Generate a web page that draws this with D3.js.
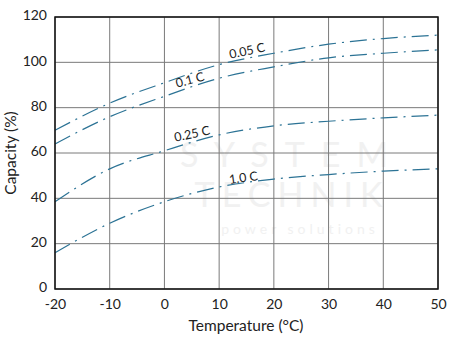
<!DOCTYPE html>
<html><head><meta charset="utf-8">
<script src="https://cdn.jsdelivr.net/npm/d3@7"></script>
<style>body{margin:0;background:#fff}svg{display:block}</style>
</head><body>
<svg id="c" width="455" height="341"></svg>
<script>
const temps = [-20, -10, 0, 10, 20, 30, 40, 50];
const cap005 = [70, 82, 91, 99, 104, 108, 110.5, 112];
const cap01  = [64, 76, 85, 93, 98, 102, 104, 105.5];
const cap025 = [38.5, 53, 61, 68, 72, 74, 75.5, 76.7];
const cap10  = [16, 29, 38.5, 45, 48.5, 50.5, 52, 53];
const seriesNames = ["0.05 C", "0.1 C", "0.25 C", "1.0 C"];
const xTicks = [-20, -10, 0, 10, 20, 30, 40, 50];
const yTicks = [0, 20, 40, 60, 80, 100, 120];
const watermark = ["SYSTEM", "TECHNIK", "power solutions"];

const svg = d3.select("#c");
const m = {l:55, r:438, t:17, b:289};
const x = d3.scaleLinear().domain([-20, 50]).range([m.l, m.r]);
const y = d3.scaleLinear().domain([0, 120]).range([m.b, m.t]);
const font = "Lato, 'Open Sans', sans-serif";

// watermark
const wm = svg.append("g").attr("fill", "#f1f1f1").attr("font-family", font);
wm.append("text").attr("x", 292).attr("y", 167).attr("text-anchor", "middle")
  .attr("font-size", 34).attr("letter-spacing", 16).text(watermark[0]);
wm.append("text").attr("x", 292).attr("y", 207).attr("text-anchor", "middle")
  .attr("font-size", 34).attr("letter-spacing", 7).text(watermark[1]);
wm.append("text").attr("x", 300).attr("y", 234).attr("text-anchor", "middle")
  .attr("font-size", 14).attr("letter-spacing", 4).text(watermark[2]);

// grid
const g = svg.append("g");
g.selectAll(".vx").data(xTicks).enter().append("line")
  .attr("x1", d => x(d)).attr("x2", d => x(d)).attr("y1", m.t).attr("y2", m.b)
  .attr("stroke", "#7a7a7a").attr("stroke-width", 1);
g.selectAll(".hy").data(yTicks).enter().append("line")
  .attr("y1", d => y(d)).attr("y2", d => y(d)).attr("x1", m.l).attr("x2", m.r)
  .attr("stroke", "#7a7a7a").attr("stroke-width", 1);

// curves
const all = [cap005, cap01, cap025, cap10];
const line = d3.line().x((d, i) => x(temps[i])).y(d => y(d)).curve(d3.curveMonotoneX);
svg.append("g").selectAll("path").data(all).enter().append("path")
  .attr("d", d => line(d)).attr("fill", "none")
  .attr("stroke", "#2c7395").attr("stroke-width", 1.2)
  .attr("stroke-dasharray", "17,6,2,6");

// frame
svg.append("rect").attr("x", m.l).attr("y", m.t).attr("width", m.r - m.l).attr("height", m.b - m.t)
  .attr("fill", "none").attr("stroke", "#111").attr("stroke-width", 1.5);

// axes
const xAxis = d3.axisBottom(x).tickValues(xTicks).tickFormat(d => String(d)).tickSize(0).tickPadding(10);
const xa = svg.append("g").attr("transform", `translate(0,${m.b})`).call(xAxis);
const yAxis = d3.axisLeft(y).tickValues(yTicks).tickFormat(d => String(d)).tickSize(0).tickPadding(8);
const ya = svg.append("g").attr("transform", `translate(${m.l},0)`).call(yAxis);
[xa, ya].forEach(a => {
  a.select(".domain").remove();
  a.selectAll("text").attr("font-family", font).attr("font-size", 14).attr("fill", "#222");
});
ya.selectAll("text").attr("dy", "0.2em");

svg.append("text").attr("x", 246).attr("y", 331).attr("text-anchor", "middle")
  .attr("font-family", font).attr("font-size", 15.5).attr("fill", "#222").text("Temperature (°C)");
svg.append("text").attr("transform", "translate(16,153) rotate(-90)").attr("text-anchor", "middle")
  .attr("font-family", font).attr("font-size", 15.5).attr("fill", "#222").text("Capacity (%)");

// series labels
const labelPos = [[248, 55, -12], [191, 84, -15], [193, 138, -12], [244, 182, -8]];
svg.append("g").selectAll("text").data(seriesNames).enter().append("text")
  .attr("transform", (d, i) => `translate(${labelPos[i][0]},${labelPos[i][1]}) rotate(${labelPos[i][2]})`)
  .attr("text-anchor", "middle").attr("font-family", font).attr("font-size", 12.5)
  .attr("fill", "#222").text(d => d);
</script>
</body></html>
